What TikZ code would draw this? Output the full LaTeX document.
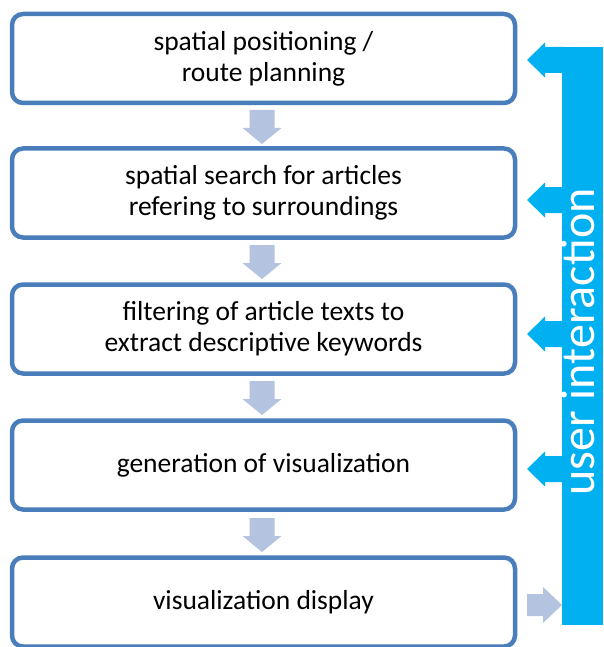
\documentclass[tikz,border=0pt]{standalone}
\usepackage{fontspec}
\setmainfont{Carlito}
\usetikzlibrary{calc}
\definecolor{boxline}{HTML}{4A7EBB}
\definecolor{downfill}{HTML}{B4C4E0}
\definecolor{uiblue}{HTML}{00B0F0}
\tikzset{
  stepbox/.style={draw=boxline, line width=4.5pt, rounded corners=11pt, fill=white,
    minimum width=503pt, minimum height=89pt, inner sep=0pt, align=center,
    font=\fontsize{27.5}{31}\selectfont, text=black},
  downarr/.pic={\fill[downfill] (-12.5,0) -- (12.5,0) -- (12.5,18) -- (19.5,18)
      -- (0,34) -- (-19.5,18) -- (-12.5,18) -- cycle;},
  leftarr/.pic={\fill[uiblue] (0,0) -- (18,-17.5) -- (18,-13) -- (37,-13)
      -- (37,13) -- (18,13) -- (18,17.5) -- cycle;},
  rightarr/.pic={\fill[downfill] (0,-11) -- (16,-11) -- (16,-18) -- (35,0)
      -- (16,18) -- (16,11) -- (0,11) -- cycle;},
}
\begin{document}
\begin{tikzpicture}[x=1pt,y=-1pt]
\useasboundingbox (0,0) rectangle (603,647);
% bar
\fill[uiblue] (562,47) rectangle (603,625);
\node[rotate=90, anchor=base, text=white, font=\fontsize{48}{48}\selectfont, inner sep=0pt] (ui) at (594,342) {user interaction};
% boxes
\node[stepbox] (b1) at (263.5,58.5) {spatial positioning /\\route planning};
\node[stepbox] (b2) at (263.5,193) {spatial search for articles\\refering to surroundings};
\node[stepbox] (b3) at (263.5,329) {filtering of article texts to\\extract descriptive keywords};
\node[stepbox] (b4) at (263.5,465) {generation of visualization};
\node[stepbox] (b5) at (263.5,602) {visualization display};
% down arrows
\pic (d1) at (262,110) {downarr};
\pic (d2) at (262,245) {downarr};
\pic (d3) at (262,381) {downarr};
\pic (d4) at (262,518) {downarr};
% left arrows from user interaction
\pic (l1) at (527,60) {leftarr};
\pic (l2) at (527,200) {leftarr};
\pic (l3) at (527,334) {leftarr};
\pic (l4) at (527,469) {leftarr};
% right arrow from display
\pic (r1) at (527,605) {rightarr};
\end{tikzpicture}
\end{document}
